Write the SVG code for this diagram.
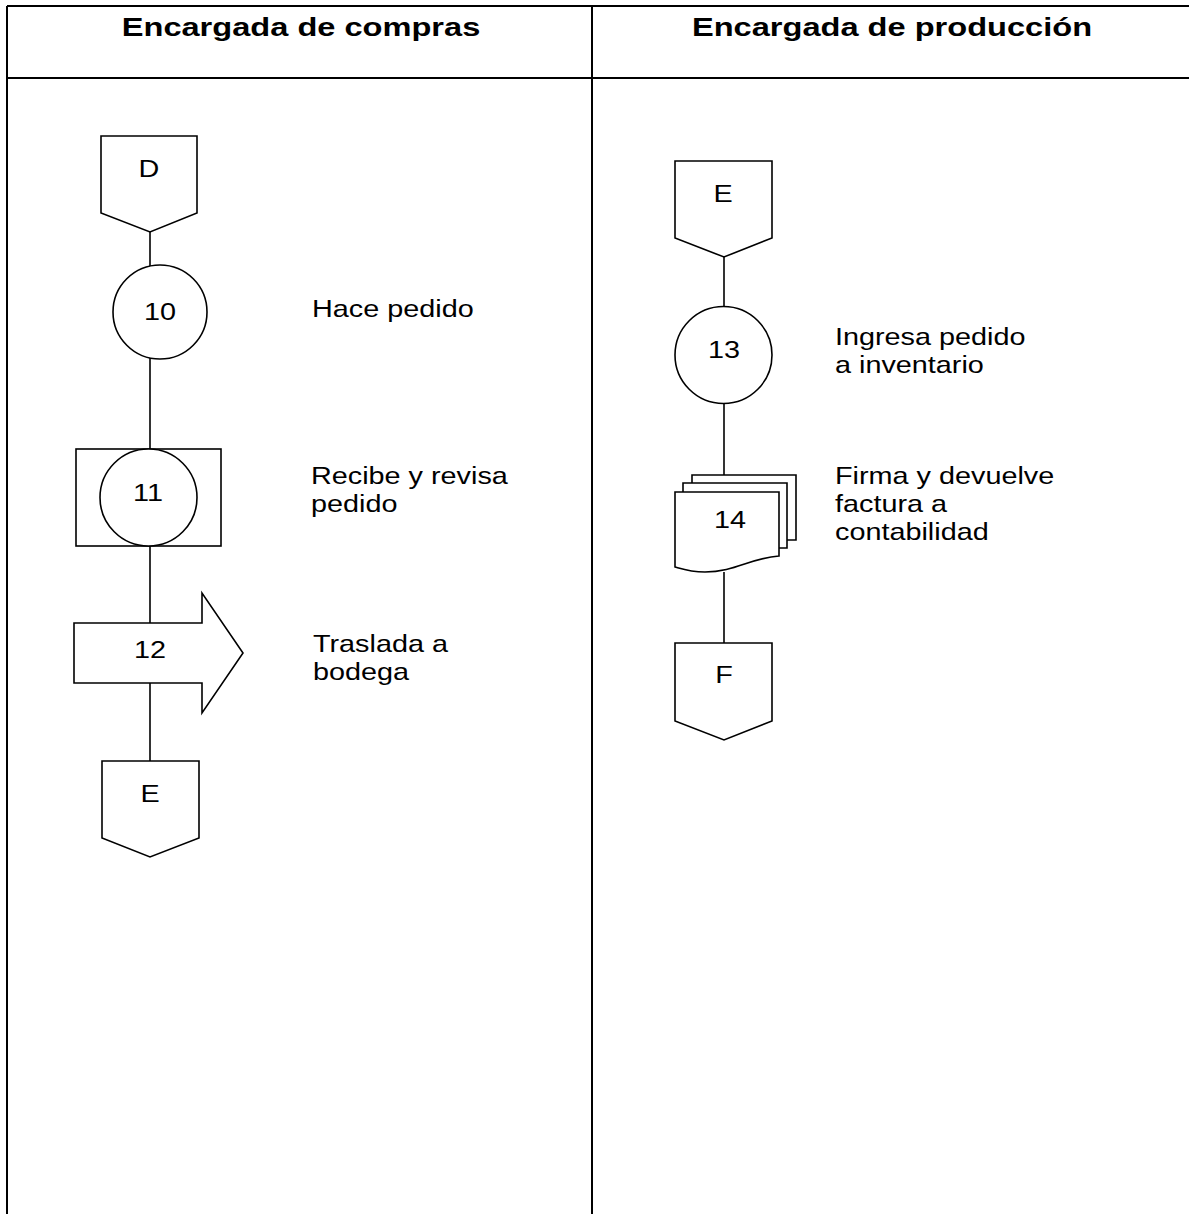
<svg xmlns="http://www.w3.org/2000/svg" width="1189" height="1214" viewBox="0 0 1189 1214">
<style>
.tbl{stroke:#000;stroke-width:2;fill:none}
.shp{stroke:#000;stroke-width:1.6;fill:#fff}
.ln{stroke:#000;stroke-width:1.6;fill:none}
.hd{font-family:"Liberation Sans",Arial,sans-serif;font-weight:bold;font-size:26.5px;fill:#000}
.lb{font-family:"Liberation Sans",Arial,sans-serif;font-size:24px;fill:#000}
.c{text-anchor:middle}
</style>
<rect width="1189" height="1214" fill="#fff"/>
<g id="table">
<line class="tbl" x1="7" y1="6" x2="1189" y2="6"/>
<line class="tbl" x1="7" y1="78" x2="1189" y2="78"/>
<line class="tbl" x1="7" y1="6" x2="7" y2="1214"/>
<line class="tbl" x1="592" y1="6" x2="592" y2="1214"/>
<text class="hd c" transform="translate(301,36) scale(1.23,1)">Encargada de compras</text>
<text class="hd c" transform="translate(892,36) scale(1.23,1)">Encargada de producción</text>
</g>
<g id="connectors">
<line class="ln" x1="150" y1="232" x2="150" y2="267"/>
<line class="ln" x1="150" y1="357" x2="150" y2="449"/>
<line class="ln" x1="150" y1="546" x2="150" y2="623"/>
<line class="ln" x1="150" y1="683" x2="150" y2="761"/>
<line class="ln" x1="724" y1="257" x2="724" y2="307"/>
<line class="ln" x1="724" y1="403" x2="724" y2="475"/>
<line class="ln" x1="724" y1="572" x2="724" y2="643"/>
</g>
<g id="nodeD">
<polygon class="shp" points="101,136 197,136 197,213 150,232 101,213"/>
<text class="lb c" transform="translate(149,177) scale(1.2,1)">D</text>
</g>
<g id="node10">
<circle class="shp" cx="160" cy="312" r="47"/>
<text class="lb c" transform="translate(160,320) scale(1.2,1)">10</text>
<text class="lb" transform="translate(312,317) scale(1.2,1)">Hace pedido</text>
</g>
<g id="node11">
<rect class="shp" x="76" y="449" width="145" height="97"/>
<circle class="shp" cx="148.5" cy="497.5" r="48.5"/>
<text class="lb c" transform="translate(148,501) scale(1.2,1)">11</text>
<text class="lb" transform="translate(311,484) scale(1.2,1)">Recibe y revisa</text>
<text class="lb" transform="translate(311,512) scale(1.2,1)">pedido</text>
</g>
<g id="node12">
<polygon class="shp" points="74,623 202,623 202,593 243,653 202,713 202,683 74,683"/>
<text class="lb c" transform="translate(150,658) scale(1.2,1)">12</text>
<text class="lb" transform="translate(313,652) scale(1.2,1)">Traslada a</text>
<text class="lb" transform="translate(313,680) scale(1.2,1)">bodega</text>
</g>
<g id="nodeE1">
<polygon class="shp" points="102,761 199,761 199,838 150,857 102,838"/>
<text class="lb c" transform="translate(150,802) scale(1.2,1)">E</text>
</g>
<g id="nodeE2">
<polygon class="shp" points="675,161 772,161 772,238 724,257 675,238"/>
<text class="lb c" transform="translate(723,202) scale(1.2,1)">E</text>
</g>
<g id="node13">
<circle class="shp" cx="723.5" cy="355" r="48.5"/>
<text class="lb c" transform="translate(724,358) scale(1.2,1)">13</text>
<text class="lb" transform="translate(835,345) scale(1.2,1)">Ingresa pedido</text>
<text class="lb" transform="translate(835,373) scale(1.2,1)">a inventario</text>
</g>
<g id="node14">
<path class="shp" d="M692,484 V475 H796 V540 H787"/>
<path class="shp" d="M683,492 V483 H787 V548 H779"/>
<path class="shp" d="M675,492 H779 V556 C750,558 735,572 705,572 C690,572 682,569 675,567 Z"/>
<text class="lb c" transform="translate(730,528) scale(1.2,1)">14</text>
<text class="lb" transform="translate(835,484) scale(1.2,1)">Firma y devuelve</text>
<text class="lb" transform="translate(835,512) scale(1.2,1)">factura a</text>
<text class="lb" transform="translate(835,540) scale(1.2,1)">contabilidad</text>
</g>
<g id="nodeF">
<polygon class="shp" points="675,643 772,643 772,721 724,740 675,721"/>
<text class="lb c" transform="translate(724,683) scale(1.2,1)">F</text>
</g>
</svg>
